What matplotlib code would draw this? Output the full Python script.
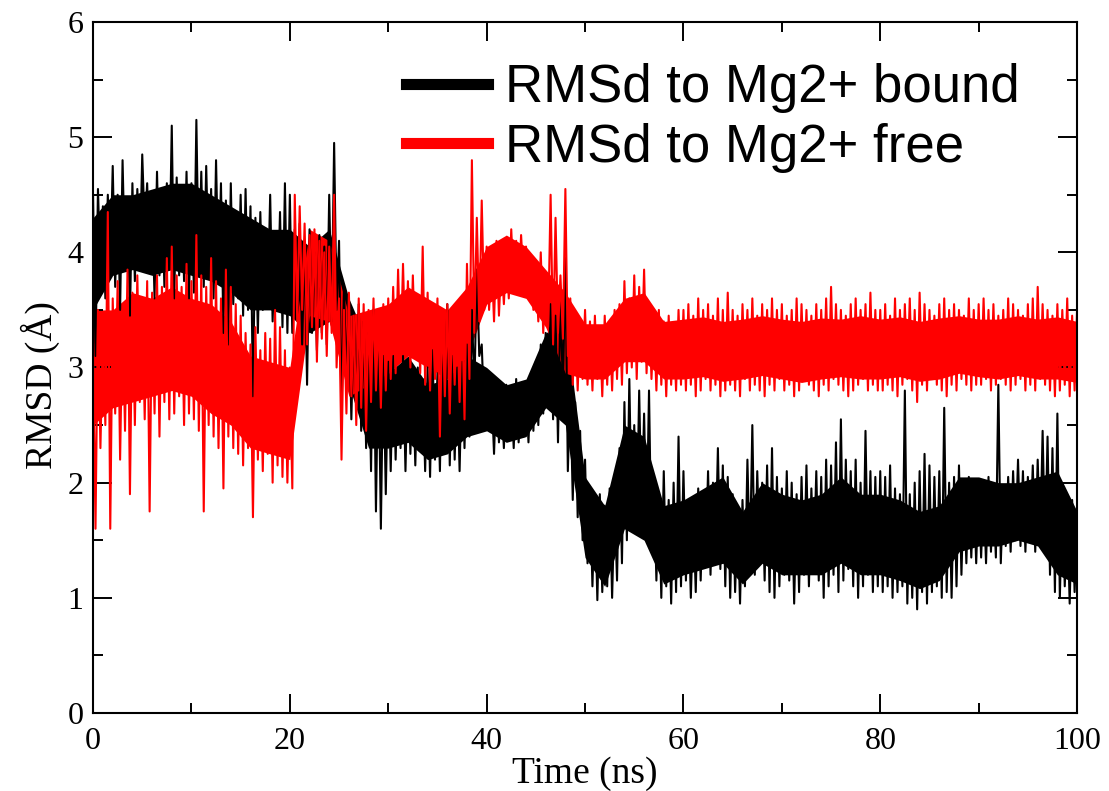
import matplotlib
matplotlib.use("Agg")
import matplotlib.pyplot as plt
from matplotlib.lines import Line2D
import numpy as np

# Time grid (ns), one upper / lower reading of each trace every 0.5 ns
time_ns = np.arange(0, 100.5, 0.5)
# coarser grid for the dense core of each band (every 2 ns)
core_ns = np.arange(0, 101, 2)

# RMSd to Mg2+ bound (black) - upper and lower edge of the noisy trace
bound_hi = [
    4.5, 4.55, 4.4, 4.5, 4.75, 4.5, 4.8, 4.45, 4.6, 4.55, 4.85, 4.6, 4.45, 4.7, 4.55, 4.6, 5.1, 4.65, 4.55, 4.7,
    4.6, 5.15, 4.7, 4.75, 4.55, 4.8, 4.6, 4.45, 4.6, 4.35, 4.5, 4.55, 4.4, 4.3, 4.35, 4.2, 4.5, 4.15, 4.35, 4.6,
    4.5, 4.2, 4.25, 4.1, 4.2, 4.0, 4.15, 4.05, 4.5, 4.95, 4.1, 3.7, 3.6, 3.45, 3.55, 3.4, 3.3, 3.5, 3.2, 3.1,
    3.05, 3.1, 3.0, 3.1, 3.05, 2.95, 3.0, 2.9, 3.0, 3.15, 2.95, 3.3, 3.55, 3.1, 3.0, 3.05, 3.2, 3.5, 3.85, 3.2,
    2.95, 2.8, 2.9, 2.75, 2.85, 2.8, 2.9, 2.75, 2.85, 2.9, 3.05, 3.2, 3.3, 3.55, 3.45, 3.6, 3.95, 2.85, 2.7, 2.45,
    2.2, 1.95, 1.85, 1.9, 1.8, 1.95, 1.85, 2.3, 2.7, 2.9, 2.5, 2.8, 2.6, 2.8, 2.0, 1.9, 2.1, 1.85, 2.0, 2.4,
    2.1, 1.8, 1.75, 1.95, 1.9, 2.1, 2.0, 2.3, 2.15, 2.05, 1.9, 1.75, 1.85, 2.2, 2.5, 2.1, 2.0, 2.15, 2.3, 2.05,
    1.95, 2.1, 2.0, 1.9, 2.05, 2.15, 1.95, 2.1, 2.05, 2.2, 2.15, 2.35, 2.55, 2.2, 2.1, 2.2, 2.0, 2.45, 2.1, 2.05,
    2.1, 2.05, 2.15, 1.95, 1.9, 2.8, 1.9, 2.0, 2.1, 2.25, 2.15, 2.05, 2.1, 2.65, 2.0, 2.05, 2.15, 2.0, 2.05, 1.95,
    2.0, 1.95, 2.05, 1.9, 2.85, 1.95, 2.05, 2.1, 2.2, 2.1, 2.05, 2.15, 2.2, 2.45, 2.4, 2.3, 2.6, 1.9, 1.75, 1.85,
    1.6,
]
bound_lo = [
    3.1, 3.8, 3.6, 3.85, 3.7, 3.5, 3.85, 3.45, 3.75, 3.9, 4.2, 3.85, 3.6, 3.8, 3.7, 3.85, 3.6, 3.8, 3.75, 3.6,
    3.65, 3.8, 3.7, 3.85, 3.6, 3.75, 3.3, 3.2, 3.55, 3.6, 3.45, 3.5, 2.75, 3.3, 3.5, 3.55, 3.4, 3.5, 3.35, 3.3,
    3.3, 3.5, 3.2, 2.85, 3.3, 3.15, 3.3, 3.2, 3.4, 3.5, 2.6, 2.9, 2.55, 2.7, 2.45, 2.3, 2.1, 1.75, 1.6, 1.9,
    2.1, 2.2, 2.3, 2.1, 2.25, 2.15, 2.3, 2.1, 2.05, 2.2, 2.1, 2.3, 2.15, 2.2, 2.1, 2.3, 2.4, 2.8, 3.1, 2.6,
    2.5, 2.25, 2.35, 2.3, 2.4, 2.3, 2.35, 2.4, 2.35, 2.45, 2.5, 2.6, 2.7, 2.55, 2.35, 2.8, 2.1, 1.85, 1.7, 1.5,
    1.3, 1.1, 0.98, 1.05, 1.1, 1.0, 1.15, 1.3, 1.5, 1.65, 1.6, 1.7, 1.55, 1.4, 1.15, 1.0, 1.1, 0.95, 1.05, 1.1,
    1.15, 1.0, 1.05, 1.15, 1.3, 1.2, 1.35, 1.25, 1.1, 1.0, 1.05, 0.95, 1.1, 1.3, 1.2, 1.35, 1.15, 1.05, 1.0, 1.1,
    1.2, 1.15, 0.95, 1.05, 1.2, 1.1, 1.3, 1.15, 1.0, 1.1, 1.2, 1.05, 1.15, 1.25, 1.1, 1.0, 1.1, 1.2, 1.05, 1.1,
    1.05, 1.1, 1.0, 1.05, 1.1, 0.95, 1.0, 0.9, 1.05, 0.95, 1.05, 1.1, 1.0, 1.05, 1.0, 1.1, 1.2, 1.3, 1.35, 1.3,
    1.35, 1.3, 1.4, 1.35, 1.3, 1.45, 1.4, 1.5, 1.45, 1.4, 1.5, 1.4, 1.45, 1.4, 1.2, 1.05, 1.0, 1.1, 0.95, 1.05,
    1.0,
]
bound_core_lo = [
    3.5, 3.8, 3.85, 3.8, 3.85, 3.8, 3.75, 3.65, 3.5, 3.5,
    3.45, 3.3, 3.4, 2.85, 2.3, 2.3, 2.35, 2.2, 2.25, 2.4,
    2.45, 2.35, 2.4, 2.65, 2.5, 1.35, 1.1, 1.6, 1.5, 1.12,
    1.2, 1.25, 1.3, 1.12, 1.3, 1.2, 1.2, 1.2, 1.3, 1.2,
    1.2, 1.15, 1.08, 1.15, 1.4, 1.45, 1.45, 1.5, 1.45, 1.2,
    1.12,
]
bound_core_hi = [
    4.3, 4.5, 4.5, 4.55, 4.6, 4.6, 4.5, 4.4, 4.3, 4.2,
    4.2, 4.05, 4.2, 3.6, 3.2, 2.95, 3.1, 2.85, 2.9, 3.1,
    3.0, 2.85, 2.9, 3.3, 3.4, 2.05, 1.8, 2.5, 2.4, 1.8,
    1.85, 1.95, 2.05, 1.75, 2.0, 1.9, 1.85, 1.9, 2.05, 1.9,
    1.9, 1.85, 1.75, 1.8, 2.05, 2.05, 2.0, 2.0, 2.05, 2.1,
    1.75,
]

# RMSd to Mg2+ free (red)
free_hi = [
    3.2, 3.5, 3.3, 4.35, 3.6, 3.75, 3.5, 3.85, 3.65, 3.8, 3.6, 3.75, 3.65, 3.8, 3.7, 3.95, 4.05, 3.8, 3.7, 3.9,
    3.75, 4.15, 3.8, 3.7, 3.95, 3.75, 3.6, 3.85, 3.7, 3.55, 3.45, 3.3, 3.2, 3.35, 3.15, 3.3, 3.25, 3.5, 3.35, 3.15,
    3.0, 4.5, 4.4, 4.25, 4.15, 4.2, 4.1, 4.0, 4.05, 4.5, 3.6, 3.5, 3.65, 3.45, 3.6, 3.55, 3.5, 3.6, 3.45, 3.55,
    3.6, 3.7, 3.85, 3.9, 3.75, 3.8, 3.6, 4.05, 3.65, 3.55, 3.6, 3.5, 3.55, 3.45, 3.5, 3.55, 3.9, 4.8, 4.3, 4.45,
    4.05, 3.95, 4.1, 3.95, 4.0, 4.2, 4.1, 4.15, 4.05, 3.95, 3.85, 4.0, 3.8, 4.5, 4.3, 3.8, 4.55, 3.6, 3.45, 3.4,
    3.5, 3.4, 3.45, 3.35, 3.45, 3.4, 3.5, 3.55, 3.75, 3.6, 3.8, 3.7, 3.85, 3.55, 3.4, 3.5, 3.4, 3.45, 3.35, 3.5,
    3.5, 3.55, 3.45, 3.6, 3.5, 3.55, 3.45, 3.6, 3.5, 3.65, 3.5, 3.45, 3.55, 3.5, 3.6, 3.45, 3.55, 3.5, 3.6, 3.5,
    3.55, 3.45, 3.5, 3.6, 3.55, 3.5, 3.45, 3.55, 3.5, 3.6, 3.7, 3.55, 3.5, 3.45, 3.55, 3.6, 3.5, 3.55, 3.65, 3.5,
    3.5, 3.55, 3.45, 3.6, 3.5, 3.55, 3.6, 3.5, 3.65, 3.55, 3.5, 3.45, 3.55, 3.6, 3.5, 3.55, 3.5, 3.45, 3.6, 3.5,
    3.55, 3.6, 3.5, 3.55, 3.45, 3.5, 3.6, 3.55, 3.5, 3.45, 3.55, 3.6, 3.7, 3.55, 3.5, 3.45, 3.55, 3.5, 3.6, 3.45,
    3.5,
]
free_lo = [
    1.6, 2.3, 2.5, 1.6, 2.6, 2.2, 2.45, 1.9, 2.5, 2.7, 2.55, 1.75, 2.6, 2.4, 2.7, 2.55, 2.6, 2.75, 2.5, 2.6,
    2.55, 2.45, 1.75, 2.5, 2.4, 2.3, 1.95, 2.4, 2.3, 2.25, 2.15, 2.3, 1.7, 2.2, 2.1, 2.25, 2.0, 2.15, 2.05, 2.0,
    1.95, 3.4, 3.5, 3.2, 3.35, 3.05, 3.25, 3.1, 3.3, 3.0, 2.2, 2.6, 2.75, 2.5, 2.65, 2.45, 2.7, 2.8, 2.65, 2.8,
    2.9, 2.95, 3.05, 3.1, 3.0, 3.1, 2.95, 2.85, 2.8, 2.9, 2.4, 2.75, 2.6, 2.85, 2.7, 2.55, 2.9, 3.3, 3.4, 3.5,
    3.5, 3.4, 3.45, 3.55, 3.6, 3.7, 3.65, 3.75, 3.6, 3.5, 3.4, 3.3, 3.35, 3.2, 3.3, 3.25, 3.1, 2.85, 2.8, 2.9,
    2.85, 2.8, 2.9, 2.75, 2.85, 2.8, 2.9, 2.85, 2.95, 3.0, 2.9, 3.05, 2.95, 2.9, 2.8, 2.85, 2.75, 2.85, 2.8, 2.85,
    2.8, 2.85, 2.75, 2.8, 2.9, 2.8, 2.85, 2.75, 2.8, 2.85, 2.8, 2.75, 2.9, 2.8, 2.85, 2.8, 2.75, 2.85, 2.8, 2.9,
    2.8, 2.85, 2.75, 2.8, 2.9, 2.85, 2.8, 2.75, 2.85, 2.8, 2.9, 2.85, 2.8, 2.75, 2.8, 2.85, 2.9, 2.8, 2.85, 2.8,
    2.8, 2.85, 2.8, 2.75, 2.85, 2.9, 2.8, 2.7, 2.85, 2.8, 2.9, 2.85, 2.8, 2.75, 2.85, 2.8, 2.9, 2.85, 2.8, 2.85,
    2.85, 2.9, 2.8, 2.85, 2.9, 2.85, 2.8, 2.85, 2.9, 2.8, 2.85, 2.8, 2.9, 2.85, 2.8, 2.75, 2.8, 2.85, 2.75, 2.8,
    2.75,
]
free_core_lo = [
    2.5, 2.65, 2.7, 2.75, 2.8, 2.75, 2.6, 2.5, 2.3, 2.25,
    2.2, 3.45, 3.4, 2.75, 2.85, 2.95, 3.1, 3.0, 2.9, 3.1,
    3.55, 3.65, 3.6, 3.35, 2.95, 2.9, 2.9, 3.05, 3.05, 2.9,
    2.9, 2.92, 2.88, 2.9, 2.93, 2.9, 2.87, 2.9, 2.92, 2.9,
    2.9, 2.92, 2.88, 2.9, 2.95, 2.92, 2.9, 2.93, 2.9, 2.9,
    2.87,
]
free_core_hi = [
    3.5, 3.5, 3.65, 3.6, 3.7, 3.6, 3.55, 3.4, 3.1, 3.05,
    3.0, 4.2, 4.1, 3.45, 3.5, 3.55, 3.7, 3.6, 3.5, 3.7,
    4.05, 4.15, 4.05, 3.85, 3.65, 3.38, 3.38, 3.6, 3.65, 3.4,
    3.42, 3.44, 3.4, 3.42, 3.45, 3.42, 3.4, 3.43, 3.42, 3.45,
    3.42, 3.44, 3.4, 3.43, 3.45, 3.42, 3.42, 3.45, 3.42, 3.44,
    3.4,
]

labels = ['RMSd to Mg2+ bound', 'RMSd to Mg2+ free']
colors = ['black', '#ff0000']


def zigzag(t, hi, lo):
    # alternate between the upper and lower reading to draw the jittery trace
    x = np.empty(2 * len(t))
    y = np.empty(2 * len(t))
    x[0::2] = t
    x[1::2] = np.asarray(t) + 0.25
    y[0::2] = hi
    y[1::2] = lo
    return x, y


fig = plt.figure(figsize=(11.09, 7.91), dpi=100)
ax = fig.add_axes([0.0839, 0.0986, 0.8873, 0.8736])

traces = [
    (bound_hi, bound_lo, bound_core_lo, bound_core_hi, colors[0]),
    (free_hi, free_lo, free_core_lo, free_core_hi, colors[1]),
]
for hi, lo, c_lo, c_hi, c in traces:
    ax.fill_between(core_ns, c_lo, c_hi, color=c, lw=0)
    xs, ys = zigzag(time_ns, hi, lo)
    ax.plot(xs, ys, color=c, lw=1.5)

ax.set_xlim(0, 100)
ax.set_ylim(0, 6)
ax.set_xticks(np.arange(0, 101, 20))
ax.set_xticks(np.arange(10, 100, 20), minor=True)
ax.set_yticks(np.arange(0, 7, 1))
ax.set_yticks(np.arange(0.5, 6, 1), minor=True)

serif = 'Liberation Serif'
ax.tick_params(which='both', direction='in', top=True, right=True, width=1.4)
ax.tick_params(which='major', length=14)
ax.tick_params(which='minor', length=7)
ax.tick_params(axis='x', which='major', pad=10)
ax.tick_params(axis='y', which='major', pad=7)
for lab in ax.get_xticklabels() + ax.get_yticklabels():
    lab.set_fontfamily(serif)
    lab.set_fontsize(23)
for sp in ax.spines.values():
    sp.set_linewidth(1.5)

ax.set_xlabel('Time (ns)', fontfamily=serif, fontsize=27, labelpad=0)
ax.set_ylabel('RMSD (Å)', fontfamily=serif, fontsize=27)
ax.yaxis.set_label_coords(-0.034, 0.475)

handles = [Line2D([], [], color=c, lw=8) for c in colors]
ax.legend(handles, labels, loc='upper left', bbox_to_anchor=(0.318, 0.94),
          frameon=False, prop={'family': 'Liberation Sans', 'size': 38},
          handlelength=1.55, handletextpad=0.32, labelspacing=0.18,
          borderpad=0, borderaxespad=0)

fig.savefig('out.png', dpi=100)
